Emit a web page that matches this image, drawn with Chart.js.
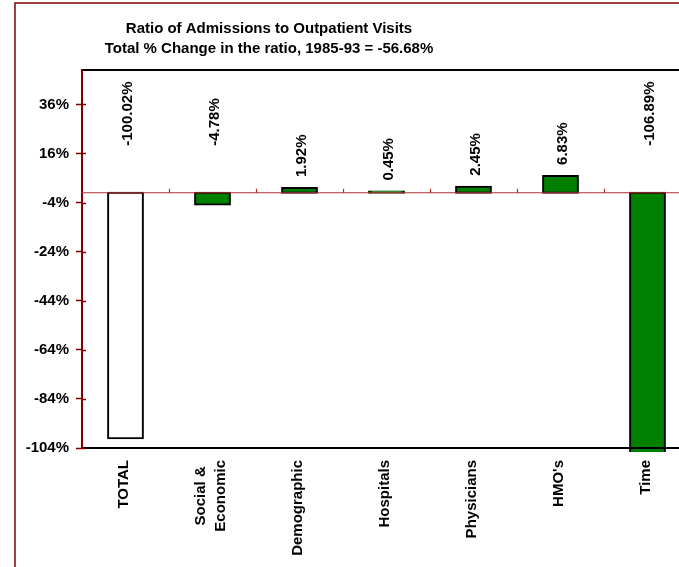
<!DOCTYPE html>
<html>
<head>
<meta charset="utf-8">
<script src="https://cdn.jsdelivr.net/npm/chart.js@4/dist/chart.umd.min.js"></script>
<style>
  html, body { margin: 0; padding: 0; background: #fff; overflow: hidden; }
  #wrap { width: 679px; height: 567px; overflow: hidden; }
  #wrap canvas { display: block; }
</style>
</head>
<body>
<div id="wrap"><canvas id="chart" width="720" height="567"></canvas></div>
<script>
const titleLines = ['Ratio of Admissions to Outpatient Visits', 'Total % Change in the ratio, 1985-93 = -56.68%'];
const categories = ['TOTAL', ['Social &', 'Economic'], 'Demographic', 'Hospitals', 'Physicians', "HMO's", 'Time'];
const changes = [-100.02, -4.78, 1.92, 0.45, 2.45, 6.83, -106.89];
const barColors = ['#ffffff', '#008000', '#008000', '#008000', '#008000', '#008000', '#008000'];
const yTicks = [-104, -84, -64, -44, -24, -4, 16, 36];
const yMin = -104;
const yMax = 50;

const FONT = '"Liberation Sans", Arial, sans-serif';

// frame round the whole chart + title
const framePlugin = {
  id: 'frame',
  beforeDraw(chart) {
    const ctx = chart.ctx;
    ctx.save();
    ctx.strokeStyle = '#800000';
    ctx.lineWidth = 1.5;
    ctx.strokeRect(15, 3, 1000, 1000);
    ctx.fillStyle = '#000';
    ctx.font = 'bold 15px ' + FONT;
    ctx.textAlign = 'center';
    ctx.textBaseline = 'alphabetic';
    ctx.fillText(titleLines[0], 269, 33);
    ctx.fillText(titleLines[1], 269, 53);
    ctx.restore();
  },
  afterDraw(chart) {
    const { ctx, chartArea: a, scales: { x, y } } = chart;
    const zero = y.getPixelForValue(0);
    ctx.save();
    // plot box
    ctx.lineWidth = 2;
    ctx.strokeStyle = '#000';
    ctx.beginPath();
    ctx.moveTo(a.left, a.top); ctx.lineTo(a.right, a.top);
    ctx.moveTo(a.left, a.bottom); ctx.lineTo(a.right, a.bottom);
    ctx.stroke();
    ctx.strokeStyle = '#800000';
    ctx.beginPath();
    ctx.moveTo(a.left, a.top - 1); ctx.lineTo(a.left, a.bottom + 1);
    ctx.stroke();
    // small inner part of y ticks
    ctx.lineWidth = 1.5;
    ctx.beginPath();
    yTicks.forEach(v => {
      const py = Math.round(y.getPixelForValue(v)) + 0.5;
      ctx.moveTo(a.left, py); ctx.lineTo(a.left + 4, py);
    });
    ctx.stroke();
    // zero line with category ticks
    ctx.strokeStyle = '#b03030';
    ctx.lineWidth = 1.2;
    ctx.beginPath();
    ctx.moveTo(a.left, zero); ctx.lineTo(a.right, zero);
    for (let i = 1; i < categories.length; i++) {
      const px = Math.round((x.getPixelForValue(i - 1) + x.getPixelForValue(i)) / 2) + 0.5;
      ctx.moveTo(px, zero); ctx.lineTo(px, zero - 4);
    }
    ctx.stroke();

    // category labels, rotated, multi-line blocks centred
    ctx.fillStyle = '#000';
    ctx.font = 'bold 15px ' + FONT;
    ctx.textAlign = 'center';
    ctx.textBaseline = 'middle';
    const lh = 19.5;
    const topY = a.bottom + 12;
    categories.forEach((cat, i) => {
      const lines = Array.isArray(cat) ? cat : [cat];
      const maxW = Math.max(...lines.map(l => ctx.measureText(l).width));
      const cx = x.getPixelForValue(i) - 1.5;
      lines.forEach((l, j) => {
        ctx.save();
        ctx.translate(cx + (j - (lines.length - 1) / 2) * lh, topY + maxW / 2);
        ctx.rotate(-Math.PI / 2);
        ctx.fillText(l, 0, 0);
        ctx.restore();
      });
    });
    ctx.restore();
  }
};

// vertical value labels
const labelPlugin = {
  id: 'valueLabels',
  afterDatasetsDraw(chart) {
    const { ctx, scales: { y } } = chart;
    const zero = y.getPixelForValue(0);
    const bars = chart.getDatasetMeta(0).data;
    ctx.save();
    ctx.fillStyle = '#000';
    ctx.font = 'bold 15px ' + FONT;
    ctx.textAlign = 'left';
    ctx.textBaseline = 'middle';
    bars.forEach((bar, i) => {
      const v = changes[i];
      const ay = v >= 0 ? y.getPixelForValue(v) - 11 : zero - 47;
      ctx.save();
      ctx.translate(bar.x + 2, ay);
      ctx.rotate(-Math.PI / 2);
      ctx.fillText(v.toFixed(2) + '%', 0, 0);
      ctx.restore();
    });
    ctx.restore();
  }
};

new Chart(document.getElementById('chart'), {
  type: 'bar',
  data: {
    labels: categories,
    datasets: [{
      data: changes,
      backgroundColor: barColors,
      borderColor: '#000',
      borderWidth: 2,
      borderSkipped: false,
      inflateAmount: 1,
      categoryPercentage: 1,
      barPercentage: 0.4,
      clip: { left: false, top: false, right: false, bottom: 4 }
    }]
  },
  options: {
    responsive: false,
    animation: false,
    layout: { padding: { top: 70, right: 29, left: 0, bottom: 0 } },
    plugins: {
      legend: { display: false },
      title: { display: false },
      tooltip: { enabled: false }
    },
    scales: {
      x: {
        grid: { display: false },
        border: { display: false },
        ticks: { display: false },
        afterFit: s => { s.height = 119; }
      },
      y: {
        min: yMin,
        max: yMax,
        afterBuildTicks: s => { s.ticks = yTicks.map(v => ({ value: v })); },
        afterFit: s => { s.width = 82; },
        grid: { drawOnChartArea: false, tickLength: 6, color: '#800000', tickWidth: 1.5 },
        border: { display: false },
        ticks: {
          color: '#000',
          padding: 7,
          font: { family: FONT, size: 15, weight: 'bold' },
          callback: v => v + '%'
        }
      }
    }
  },
  plugins: [framePlugin, labelPlugin]
});
</script>
</body>
</html>
